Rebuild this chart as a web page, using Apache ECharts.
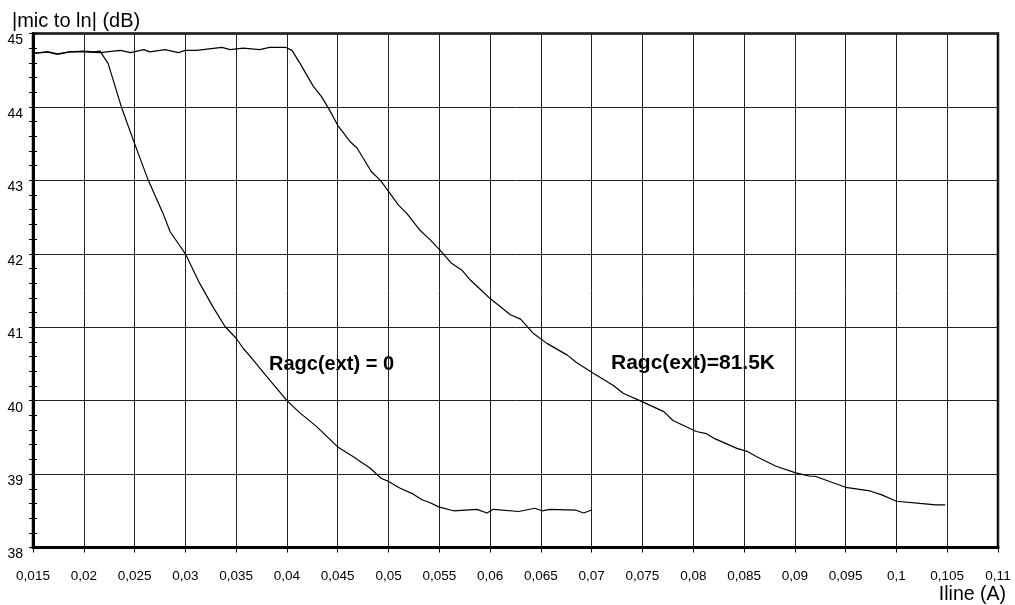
<!DOCTYPE html>
<html>
<head>
<meta charset="utf-8">
<script src="https://cdn.jsdelivr.net/npm/echarts@6/dist/echarts.min.js"></script>
<style>
html,body{margin:0;padding:0;background:#fff;}
#chart{width:1015px;height:605px;}
</style>
</head>
<body>
<div id="chart"></div>
<script>
// Ragc(ext) = 0
const xRagc0 = [0.015, 0.0165, 0.0175, 0.0186, 0.02, 0.021, 0.0216, 0.0224, 0.0237, 0.025, 0.02635, 0.0278, 0.0285, 0.0293, 0.03, 0.0314, 0.0327, 0.0339, 0.035, 0.0357, 0.0364, 0.038, 0.04, 0.0413, 0.0429, 0.045, 0.0465, 0.0482, 0.0493, 0.05, 0.0511, 0.0524, 0.0533, 0.0541, 0.055, 0.0564, 0.0587, 0.0597, 0.0603, 0.0628, 0.0644, 0.0651, 0.0659, 0.0684, 0.0692, 0.07];
const yRagc0 = [44.73, 44.75, 44.72, 44.75, 44.76, 44.75, 44.76, 44.59, 44.0, 43.5, 43.0, 42.55, 42.30, 42.14, 42.0, 41.60, 41.28, 41.01, 40.85, 40.71, 40.60, 40.33, 40.0, 39.83, 39.65, 39.37, 39.24, 39.08, 38.94, 38.90, 38.81, 38.73, 38.65, 38.61, 38.55, 38.50, 38.52, 38.47, 38.52, 38.49, 38.535, 38.50, 38.52, 38.51, 38.47, 38.51];

// Ragc(ext) = 81.5K
const xRagc815 = [0.015, 0.0164, 0.0173, 0.0186, 0.02, 0.0216, 0.0236, 0.0246, 0.0259, 0.0265, 0.028, 0.0293, 0.03, 0.0311, 0.0336, 0.0344, 0.0357, 0.0373, 0.0383, 0.0399, 0.0405, 0.0413, 0.0426, 0.0434, 0.0441, 0.045, 0.0462, 0.0469, 0.0483, 0.0492, 0.05, 0.051, 0.0518, 0.0531, 0.0541, 0.055, 0.0562, 0.0572, 0.058, 0.059, 0.06, 0.062, 0.063, 0.0643, 0.0656, 0.0676, 0.0685, 0.0702, 0.0721, 0.0731, 0.0749, 0.0771, 0.078, 0.0803, 0.0813, 0.082, 0.0843, 0.0853, 0.0862, 0.0881, 0.09, 0.0915, 0.092, 0.095, 0.0974, 0.0985, 0.1, 0.1023, 0.1039, 0.1048];
const yRagc815 = [44.73, 44.75, 44.72, 44.75, 44.75, 44.74, 44.77, 44.74, 44.78, 44.75, 44.78, 44.74, 44.77, 44.77, 44.81, 44.78, 44.80, 44.78, 44.81, 44.81, 44.77, 44.59, 44.28, 44.14, 43.98, 43.75, 43.53, 43.44, 43.12, 43.0, 42.85, 42.66, 42.55, 42.32, 42.19, 42.06, 41.87, 41.78, 41.65, 41.52, 41.39, 41.17, 41.11, 40.91, 40.78, 40.62, 40.52, 40.37, 40.21, 40.10, 39.99, 39.85, 39.73, 39.58, 39.55, 39.49, 39.35, 39.31, 39.24, 39.11, 39.02, 38.97, 38.97, 38.82, 38.77, 38.72, 38.63, 38.60, 38.58, 38.58];

const xTitle = 'Iline (A)';
const yTitle = '|mic to ln| (dB)';
const label0 = 'Ragc(ext) = 0';
const label815 = 'Ragc(ext)=81.5K';

const font = '"Liberation Sans", Arial, sans-serif';

function pairs(xs, ys) { return xs.map((x, i) => [x, ys[i]]); }

const chart = echarts.init(document.getElementById('chart'));
chart.setOption({
  animation: false,
  backgroundColor: '#fff',
  grid: { left: 33, right: 17, top: 33.5, bottom: 57.5, show: true, borderColor: '#000', borderWidth: 2.5, backgroundColor: 'transparent' },
  xAxis: {
    type: 'value', min: 0.015, max: 0.11, interval: 0.005,
    axisLine: { show: true, lineStyle: { color: '#000', width: 3 } },
    axisTick: { show: true, length: 5, lineStyle: { color: '#000', width: 1 } },
    axisLabel: { color: '#000', fontSize: 13.5, fontFamily: font, margin: 22,
      formatter: v => String(+v.toFixed(4)).replace('.', ',') },
    splitLine: { show: true, lineStyle: { color: '#222', width: 1 } }
  },
  yAxis: [{
    type: 'value', min: 38, max: 45, interval: 1,
    axisLine: { show: true, lineStyle: { color: '#000', width: 3 } },
    axisTick: { show: true, length: 4, lineStyle: { color: '#000', width: 1 } },
    minorTick: { show: true, splitNumber: 5, length: 4, lineStyle: { color: '#000', width: 1 } },
    axisLabel: { color: '#000', fontSize: 14, fontFamily: font, margin: 10, verticalAlign: 'top' },
    splitLine: { show: true, lineStyle: { color: '#222', width: 1 } }
  }, {
    type: 'value', min: 38, max: 45, interval: 1, position: 'left',
    axisLine: { show: false },
    axisTick: { show: true, inside: true, length: 4, lineStyle: { color: '#000', width: 1 } },
    minorTick: { show: true, splitNumber: 5, length: 4, lineStyle: { color: '#000', width: 1 } },
    axisLabel: { show: false },
    splitLine: { show: false }
  }],
  series: [
    { type: 'line', data: pairs(xRagc0, yRagc0), showSymbol: false, symbol: 'none',
      lineStyle: { color: '#000', width: 1.2 }, z: 5 },
    { type: 'line', data: pairs(xRagc815, yRagc815), showSymbol: false, symbol: 'none',
      lineStyle: { color: '#000', width: 1.2 }, z: 5 }
  ],
  graphic: [
    { type: 'text', left: 12, top: 11, style: { text: yTitle, font: '20px ' + font, fill: '#000' } },
    { type: 'text', right: 9, top: 585, style: { text: xTitle, font: '19.5px ' + font, fill: '#000' } },
    { type: 'text', left: 269, top: 354, style: { text: label0, font: 'bold 20px ' + font, fill: '#000' } },
    { type: 'text', left: 611, top: 353, style: { text: label815, font: 'bold 21px ' + font, fill: '#000' } }
  ]
});
</script>
</body>
</html>
